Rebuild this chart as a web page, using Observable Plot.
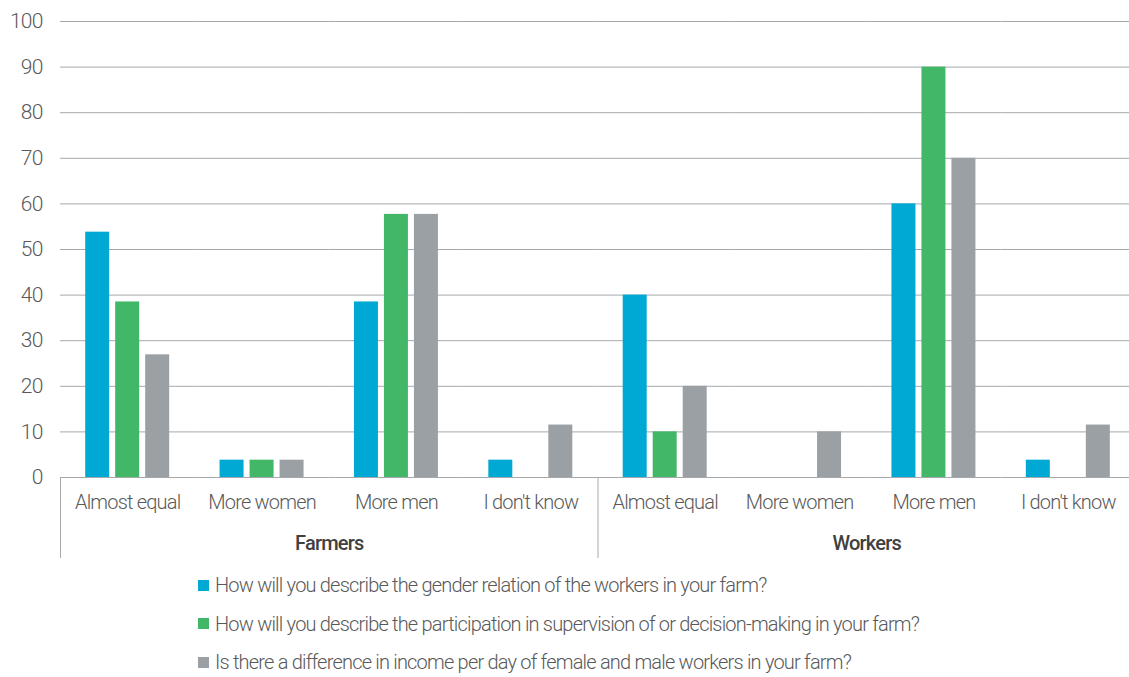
<!DOCTYPE html>
<html>
<head>
<meta charset="utf-8">
<script src="https://cdn.jsdelivr.net/npm/d3@7"></script>
<script src="https://cdn.jsdelivr.net/npm/@observablehq/plot@0.6"></script>
<style>
  html, body { margin: 0; padding: 0; background: #ffffff; }
  #chart svg { display: block; }
  #chart text { letter-spacing: -0.8px; }
  #chart [aria-label="y-axis tick label"] { font-size: 21px; letter-spacing: -0.6px; }
  .legend { padding-left: 198px; font-family: Roboto, "Liberation Sans", sans-serif; font-weight: 300; font-size: 20px; letter-spacing: -0.8px; color: #595959; }
  .legend .row { display: flex; align-items: center; height: 38.5px; white-space: nowrap; }
  .legend .sw { width: 11px; height: 11px; margin-right: 6px; flex: none; }
</style>
</head>
<body>
<div id="chart"></div>
<div class="legend" id="legend"></div>
<script>
const groups = ["Farmers", "Workers"];
const categories = ["Almost equal", "More women", "More men", "I don't know"];
const series = [
  "How will you describe the gender relation of the workers in your farm?",
  "How will you describe the participation in supervision of or decision-making in your farm?",
  "Is there a difference in income per day of female and male workers in your farm?"
];
const farmersGender      = [53.8, 3.8, 38.5, 3.8];
const farmersSupervision = [38.5, 3.8, 57.7, 0];
const farmersIncome      = [26.9, 3.8, 57.7, 11.5];
const workersGender      = [40, 0, 60, 3.8];
const workersSupervision = [10, 0, 90, 0];
const workersIncome      = [20, 10, 70, 11.5];
const colors = ["#00a9d4", "#42b768", "#9aa0a3"];
const yTicks = [0, 10, 20, 30, 40, 50, 60, 70, 80, 90, 100];

const valuesByGroup = {
  Farmers: [farmersGender, farmersSupervision, farmersIncome],
  Workers: [workersGender, workersSupervision, workersIncome]
};
const keyOf = (g, c) => g + "|" + c;
const keys = groups.flatMap(g => categories.map(c => keyOf(g, c)));
const rows = [];
groups.forEach(g => {
  valuesByGroup[g].forEach((vals, si) => {
    vals.forEach((v, ci) => {
      rows.push({group: g, category: categories[ci], key: keyOf(g, categories[ci]), series: series[si], value: v});
    });
  });
});

const font = 'Roboto, "Liberation Sans", sans-serif';
const gridColor = "#a5a9ac";

const chart = Plot.plot({
  width: 1129,
  height: 566,
  marginLeft: 60,
  marginRight: -6,
  marginTop: 21,
  marginBottom: 89,
  style: {fontFamily: font, fontSize: "20px", fontWeight: 300, color: "#595959", background: "#ffffff", overflow: "visible"},
  fx: {domain: keys, padding: 0, round: false, axis: "bottom", label: null, tickSize: 0, tickPadding: 17, tickFormat: k => k.split("|")[1]},
  x: {domain: series, paddingInner: 0.2, paddingOuter: 0.84, round: false, axis: null},
  y: {domain: [0, 100], ticks: yTicks, tickSize: 0, tickPadding: 18, label: null},
  color: {domain: series, range: colors},
  marks: [
    Plot.ruleY(yTicks.filter(t => t > 0), {stroke: gridColor, strokeWidth: 1}),
    Plot.barY(rows, {fx: "key", x: "series", y: "value", fill: "series"}),
    Plot.ruleY([0], {stroke: gridColor, strokeWidth: 1.2}),
    Plot.text(groups, {fx: g => keyOf(g, "More women"), text: d => d, frameAnchor: "bottom-right", textAnchor: "middle", lineAnchor: "middle", dy: 66, fontWeight: 500, fill: "#404040", fontSize: 20}),
    ...groups.map(g => Plot.frame({anchor: "left", fx: () => keyOf(g, "Almost equal"), stroke: gridColor, insetTop: 456, insetBottom: -80}))
  ]
});
document.getElementById("chart").appendChild(chart);

const legend = document.getElementById("legend");
series.forEach((s, i) => {
  const row = document.createElement("div");
  row.className = "row";
  const sw = document.createElement("span");
  sw.className = "sw";
  sw.style.background = colors[i];
  const t = document.createElement("span");
  t.textContent = s;
  row.appendChild(sw);
  row.appendChild(t);
  legend.appendChild(row);
});
</script>
</body>
</html>
